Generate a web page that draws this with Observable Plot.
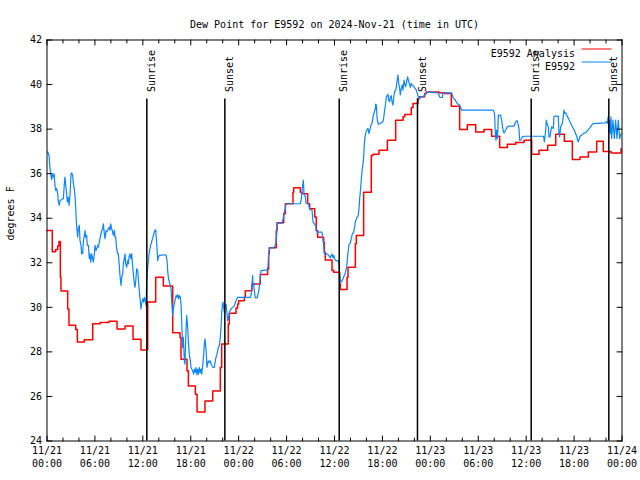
<!DOCTYPE html>
<html><head><meta charset="utf-8">
<script src="https://cdn.jsdelivr.net/npm/d3@7"></script>
<script src="https://cdn.jsdelivr.net/npm/@observablehq/plot@0.6"></script>
<style>body{margin:0;background:#fff}</style>
</head><body><div id="chart"></div>
<script>
const titleText = "Dew Point for E9592 on 2024-Nov-21 (time in UTC)";
const yLabel = "degrees F";
const seriesNames = ["E9592 Analysis", "E9592"];
const seriesColors = ["#ff0000", "#0a86ff"];

// hours since 11/21 00:00 UTC, degrees F
const analysis = [[0,33.45],[0.66,32.49],[1.09,32.6],[1.34,32.75],[1.5,32.95],[1.67,31.35],[1.75,30.73],[2.59,29.93],[2.75,29.2],[3.59,29.0],[3.8,28.44],[4.67,28.54],[5.72,29.26],[6.64,29.32],[7.76,29.38],[8.77,29.03],[9.77,29.16],[10.77,28.57],[11.77,28.08],[12.61,30.24],[13.61,31.35],[14.57,30.96],[15.74,28.86],[16.66,28.65],[16.78,27.67],[17.53,27.15],[17.7,26.47],[18.58,26.1],[18.79,25.3],[19.78,25.8],[20.75,26.25],[21.7,27.3],[21.87,28.35],[22.7,29.25],[22.83,29.73],[23.67,29.97],[23.87,30.15],[24.0,30.3],[24.71,30.45],[24.83,30.75],[25.67,31.05],[26.71,31.47],[27.63,31.72],[27.76,32.4],[27.84,32.67],[28.71,33.45],[28.8,33.8],[29.64,34.2],[29.84,34.65],[30.8,35.17],[30.89,35.37],[31.72,35.17],[31.93,35.1],[32.64,34.65],[32.89,34.42],[33.52,34.05],[33.72,33.45],[33.89,33.15],[34.64,32.92],[34.73,32.47],[34.85,32.13],[35.69,31.65],[35.9,31.57],[36.65,31.05],[36.73,30.8],[37.57,31.35],[37.69,31.8],[38.61,32.85],[38.73,33.22],[39.65,35.17],[40.61,36.82],[40.82,36.87],[41.57,37.05],[42.62,37.5],[43.66,38.4],[44.58,38.55],[44.79,38.66],[45.62,38.97],[45.83,39.15],[46.46,39.37],[46.66,39.45],[47.29,39.6],[47.5,39.67],[49.09,39.63],[49.71,39.6],[50.63,39.03],[51.67,37.98],[52.63,38.2],[53.68,37.87],[54.72,37.98],[55.68,37.68],[56.68,37.17],[57.64,37.32],[58.69,37.4],[59.73,37.5],[60.69,36.87],[61.61,37.05],[62.7,37.27],[63.7,37.77],[64.78,37.45],[65.78,36.64],[66.74,36.75],[67.78,36.97],[68.83,37.45],[69.66,37.0],[70.63,36.93],[71.7,36.93],[71.88,37.12]];

const station = [[0.08,36.98],[0.25,36.83],[0.33,36.45],[0.46,36.0],[0.58,35.73],[0.67,35.97],[0.79,35.85],[0.88,36.0],[1.0,35.48],[1.09,35.25],[1.21,35.33],[1.34,35.1],[1.42,34.73],[1.54,34.58],[1.63,34.8],[1.84,34.83],[2.05,34.88],[2.17,35.55],[2.25,35.85],[2.34,35.48],[2.46,35.1],[2.55,34.73],[2.67,34.95],[2.76,34.58],[2.88,35.03],[3.01,36.0],[3.09,36.03],[3.21,35.93],[3.3,35.55],[3.42,35.33],[3.51,34.95],[3.59,34.5],[3.67,33.83],[3.76,33.45],[3.84,33.15],[3.92,33.53],[4.05,33.68],[4.13,33.0],[4.26,32.78],[4.34,32.4],[4.47,32.43],[4.55,32.93],[4.68,33.23],[4.76,33.45],[4.84,33.15],[4.97,33.23],[5.05,32.78],[5.18,32.78],[5.3,32.18],[5.38,32.4],[5.47,32.03],[5.59,32.4],[5.72,32.18],[5.8,32.03],[5.93,32.4],[6.01,32.78],[6.14,32.55],[6.22,32.63],[6.35,32.78],[6.43,32.7],[6.51,32.85],[6.64,33.08],[6.76,33.3],[6.85,33.45],[6.97,33.53],[7.05,33.75],[7.18,33.3],[7.26,33.08],[7.39,33.45],[7.47,33.38],[7.6,33.45],[7.68,33.53],[7.81,33.6],[7.89,33.45],[7.97,33.75],[8.1,33.53],[8.18,33.45],[8.31,33.23],[8.43,33.45],[8.52,33.15],[8.6,33.15],[8.72,32.63],[8.85,32.4],[8.93,32.4],[9.02,32.03],[9.14,31.43],[9.27,30.98],[9.35,31.35],[9.48,31.5],[9.56,31.95],[9.64,32.1],[9.77,32.4],[9.85,31.95],[9.98,31.8],[10.1,32.1],[10.19,31.95],[10.27,32.25],[10.39,32.4],[10.52,32.18],[10.6,32.4],[10.69,32.03],[10.81,31.5],[10.94,31.05],[11.02,30.9],[11.1,31.13],[11.23,31.73],[11.35,31.65],[11.44,31.28],[11.52,30.9],[11.65,30.38],[11.77,29.93],[11.85,30.15],[11.98,30.38],[12.1,30.23],[12.19,30.45],[12.31,30.3],[12.4,30.08],[12.48,31.13],[12.6,31.73],[12.69,32.1],[12.81,32.48],[12.94,32.7],[13.02,32.85],[13.15,33.0],[13.27,33.15],[13.36,33.3],[13.52,33.45],[13.61,33.48],[13.69,33.08],[13.77,32.7],[13.86,32.1],[13.94,32.25],[14.07,32.33],[14.9,32.36],[15.03,32.1],[15.11,31.65],[15.19,31.35],[15.32,31.13],[15.44,30.98],[15.53,30.83],[15.61,30.3],[15.74,29.63],[15.86,30.0],[15.94,30.15],[16.07,30.38],[16.15,30.53],[16.28,30.45],[16.36,30.57],[16.49,30.38],[16.57,30.53],[16.7,30.45],[16.78,30.15],[16.86,29.4],[16.99,28.2],[17.07,28.65],[17.2,27.6],[17.28,27.45],[17.4,28.95],[17.49,29.63],[17.61,29.1],[17.7,28.5],[17.82,27.9],[17.95,27.6],[18.03,27.3],[18.24,27.15],[18.36,27.0],[18.45,27.23],[18.57,27.08],[18.66,27.3],[18.78,26.97],[18.87,27.23],[18.99,27.0],[19.07,27.3],[19.2,27.08],[19.28,27.23],[19.37,27.0],[19.49,27.38],[19.62,27.9],[19.7,28.35],[19.78,28.58],[19.87,28.28],[19.95,27.9],[20.03,27.3],[20.12,27.45],[20.2,27.6],[20.33,27.53],[20.45,27.6],[20.54,27.45],[20.66,27.38],[20.79,27.3],[20.95,27.3],[21.04,27.53],[21.16,27.75],[21.29,27.9],[21.37,28.05],[21.45,28.2],[21.58,28.28],[21.7,28.65],[21.79,29.1],[21.87,29.7],[21.95,30.08],[22.04,30.23],[22.12,30.0],[22.2,29.78],[22.29,29.97],[22.41,30.15],[22.54,29.7],[22.62,29.4],[22.71,29.48],[22.83,29.78],[22.96,29.88],[23.04,29.93],[23.25,30.0],[23.46,30.08],[23.67,30.3],[23.87,30.45],[25.46,30.45],[25.58,30.6],[25.67,31.05],[25.75,31.43],[25.79,30.98],[25.88,31.05],[25.96,30.75],[26.09,30.42],[26.29,30.42],[26.38,30.53],[26.5,30.68],[26.63,31.05],[26.71,31.41],[26.8,31.65],[27.55,31.68],[27.67,31.8],[27.76,32.4],[27.84,32.67],[28.38,32.67],[28.59,32.78],[28.67,32.93],[28.8,33.45],[28.88,33.78],[29.43,33.78],[29.55,33.93],[29.72,34.28],[29.84,34.43],[29.93,34.65],[31.72,34.65],[31.85,34.88],[31.93,35.18],[32.01,35.48],[32.1,35.7],[32.18,35.1],[32.35,34.95],[32.43,34.68],[32.76,34.65],[32.89,34.38],[33.18,34.38],[33.31,33.83],[33.64,33.68],[33.72,33.45],[33.81,33.38],[34.43,33.38],[34.56,33.0],[34.64,32.85],[34.73,32.4],[35.06,32.4],[35.27,32.33],[35.48,32.22],[35.69,32.4],[35.81,32.22],[35.9,32.33],[36.02,32.18],[36.15,32.1],[36.44,32.1],[36.56,31.95],[36.64,31.5],[36.73,31.2],[36.85,31.13],[37.06,31.28],[37.31,31.5],[37.48,31.73],[37.56,31.95],[37.65,32.33],[37.73,32.55],[37.81,32.82],[37.98,32.88],[38.11,33.08],[38.23,33.3],[38.4,33.38],[38.52,33.6],[38.61,33.83],[38.82,34.05],[38.94,34.08],[39.02,34.28],[39.11,34.58],[39.15,34.88],[39.23,35.18],[39.32,35.55],[39.4,35.93],[39.48,36.23],[39.57,36.45],[39.65,36.75],[39.73,37.28],[39.82,37.65],[39.9,37.8],[39.98,37.92],[40.19,38.03],[40.32,37.8],[40.4,37.95],[40.48,38.03],[40.57,38.18],[40.69,38.25],[40.82,38.55],[40.94,38.7],[41.03,38.85],[41.11,38.88],[41.15,39.12],[41.24,39.08],[41.32,38.55],[41.4,38.33],[41.49,38.22],[41.86,38.28],[42.07,38.33],[42.15,38.48],[42.28,38.85],[42.4,39.15],[42.49,39.45],[42.7,39.56],[42.78,39.3],[42.91,39.23],[42.99,39.45],[43.11,39.5],[43.2,39.23],[43.32,39.08],[43.45,39.53],[43.53,39.68],[43.66,39.75],[43.74,39.9],[43.82,40.13],[43.95,40.43],[44.03,40.08],[44.16,39.83],[44.24,39.53],[44.32,39.75],[44.41,39.9],[44.49,39.98],[44.58,39.75],[44.7,40.2],[44.78,40.05],[44.91,39.9],[45.03,40.13],[45.16,40.35],[45.24,40.2],[45.37,40.05],[45.49,39.87],[45.62,40.05],[45.74,39.98],[45.99,39.87],[46.12,39.83],[46.24,39.75],[46.37,39.6],[46.49,39.45],[46.58,39.38],[46.75,39.45],[47.08,39.45],[47.29,39.53],[47.5,39.63],[47.92,39.66],[49.0,39.63],[49.08,39.53],[49.21,39.42],[49.5,39.42],[49.58,39.6],[49.71,39.63],[50.67,39.63],[50.75,39.53],[50.88,39.38],[51.09,39.33],[51.17,39.27],[51.38,39.15],[51.5,39.12],[51.67,39.08],[51.8,38.97],[51.92,38.85],[55.84,38.85],[55.97,38.78],[56.05,38.63],[56.14,37.8],[56.22,37.5],[56.3,37.95],[56.39,37.58],[56.47,38.1],[56.51,38.63],[56.8,38.63],[56.93,38.4],[57.1,37.95],[57.22,37.83],[57.43,37.95],[57.64,38.1],[57.85,38.13],[58.47,38.13],[58.6,38.25],[58.77,38.37],[58.89,38.37],[59.1,38.03],[59.18,37.5],[59.31,37.5],[59.43,37.58],[59.52,37.65],[59.73,37.68],[62.15,37.68],[62.23,37.58],[62.27,37.43],[62.35,37.65],[62.44,37.95],[62.52,38.4],[62.6,38.25],[62.77,38.1],[62.86,37.65],[62.98,37.65],[63.11,37.95],[63.19,38.1],[63.4,38.03],[63.48,38.55],[63.61,38.58],[64.02,38.58],[64.11,37.8],[64.19,37.65],[64.32,38.1],[64.52,38.25],[64.65,38.55],[64.73,38.85],[64.82,38.7],[64.94,38.73],[65.07,38.63],[65.19,38.55],[65.36,38.43],[65.48,38.33],[65.69,38.18],[65.9,38.03],[66.11,37.88],[66.32,37.68],[66.44,37.5],[66.53,37.43],[66.65,37.58],[66.74,37.68],[66.95,37.73],[67.15,37.8],[67.36,37.83],[67.57,37.88],[67.78,37.98],[67.99,38.07],[68.2,38.18],[68.41,38.25],[69.87,38.28],[70.08,38.33],[70.16,38.25],[70.2,38.4],[70.29,38.58],[70.37,37.88],[70.45,38.4],[70.54,37.8],[70.62,38.55],[70.7,37.58],[70.87,38.4],[71.04,37.58],[71.2,38.4],[71.37,37.58],[71.54,38.4],[71.7,37.58],[71.88,37.8]];

const eventHours = [12.5, 22.27, 36.59, 46.39, 60.63, 70.35];
const eventNames = ["Sunrise", "Sunset", "Sunrise", "Sunset", "Sunrise", "Sunset"];

const xMajor = [0, 6, 12, 18, 24, 30, 36, 42, 48, 54, 60, 66, 72];
const xMinor = [2, 4, 8, 10, 14, 16, 20, 22, 26, 28, 32, 34, 38, 40, 44, 46, 50, 52, 56, 58, 62, 64, 68, 70];
const xDateLabels = ["11/21","11/21","11/21","11/21","11/22","11/22","11/22","11/22","11/23","11/23","11/23","11/23","11/24"];
const xTimeLabels = ["00:00","06:00","12:00","18:00","00:00","06:00","12:00","18:00","00:00","06:00","12:00","18:00","00:00"];
const yTicks = [24, 26, 28, 30, 32, 34, 36, 38, 40, 42];

const font = "DejaVu Sans Mono";
const fs = 10;
const seg = {draw(ctx, l) { ctx.moveTo(0, 0); ctx.lineTo(0, -l); }};
const tickOpts = {stroke: "black", strokeWidth: 1, anchor: "start", shape: seg};

const marks = [
  Plot.line(analysis, {x: d => d[0], y: d => d[1], curve: "step-after", stroke: seriesColors[0], strokeWidth: 1.5}),
  Plot.line(station, {x: d => d[0], y: d => d[1], stroke: seriesColors[1], strokeWidth: 1.2}),
  Plot.ruleX(eventHours, {x: d => d, stroke: "black", strokeWidth: 1.5, insetTop: 59}),
  Plot.text(eventHours, {x: d => d, text: (d, i) => eventNames[i], frameAnchor: "top", dy: 52, dx: 1, rotate: -90, textAnchor: "start", fontSize: fs, fontFamily: font, fill: "black"}),
  Plot.frame({stroke: "black", strokeWidth: 1}),
  Plot.vector(xMajor, {x: d => d, frameAnchor: "bottom", length: 5, rotate: 0, ...tickOpts}),
  Plot.vector(xMajor, {x: d => d, frameAnchor: "top", length: 5, rotate: 180, ...tickOpts}),
  Plot.vector(xMinor, {x: d => d, frameAnchor: "bottom", length: 3, rotate: 0, ...tickOpts}),
  Plot.vector(xMinor, {x: d => d, frameAnchor: "top", length: 3, rotate: 180, ...tickOpts}),
  Plot.vector(yTicks, {y: d => d, frameAnchor: "left", length: 5, rotate: 90, ...tickOpts}),
  Plot.vector(yTicks, {y: d => d, frameAnchor: "right", length: 5, rotate: -90, ...tickOpts}),
  Plot.text(xMajor, {x: d => d, text: (d, i) => xDateLabels[i], frameAnchor: "bottom", dy: 13, fontSize: fs, fontFamily: font, fill: "black"}),
  Plot.text(xMajor, {x: d => d, text: (d, i) => xTimeLabels[i], frameAnchor: "bottom", dy: 26, fontSize: fs, fontFamily: font, fill: "black"}),
  Plot.text(yTicks, {y: d => d, text: d => String(d), frameAnchor: "left", dx: -5, textAnchor: "end", fontSize: fs, fontFamily: font, fill: "black"}),
  Plot.text([titleText], {frameAnchor: "top", dy: -19, fontSize: fs, fontFamily: font, fill: "black"}),
  Plot.text([yLabel], {frameAnchor: "left", dx: -36, rotate: -90, fontSize: fs, fontFamily: font, fill: "black"})
];
seriesNames.forEach((name, i) => {
  marks.push(Plot.text([name], {frameAnchor: "top-right", dx: -47, dy: 10 + 13 * i, textAnchor: "end", fontSize: fs, fontFamily: font, fill: "black"}));
  marks.push(Plot.vector([name], {frameAnchor: "top-right", dx: -40, dy: 9 + 13 * i, length: 29, rotate: 90, anchor: "start", shape: seg, stroke: seriesColors[i], strokeWidth: 1.2}));
});

const chart = Plot.plot({
  width: 640, height: 480,
  marginLeft: 46.5, marginRight: 18.5, marginTop: 39.5, marginBottom: 39.5,
  x: {domain: [0, 72], axis: null},
  y: {domain: [24, 42], axis: null},
  style: {fontFamily: font, fontSize: fs + "px", background: "white"},
  marks
});
document.getElementById("chart").appendChild(chart);
</script>
</body></html>
